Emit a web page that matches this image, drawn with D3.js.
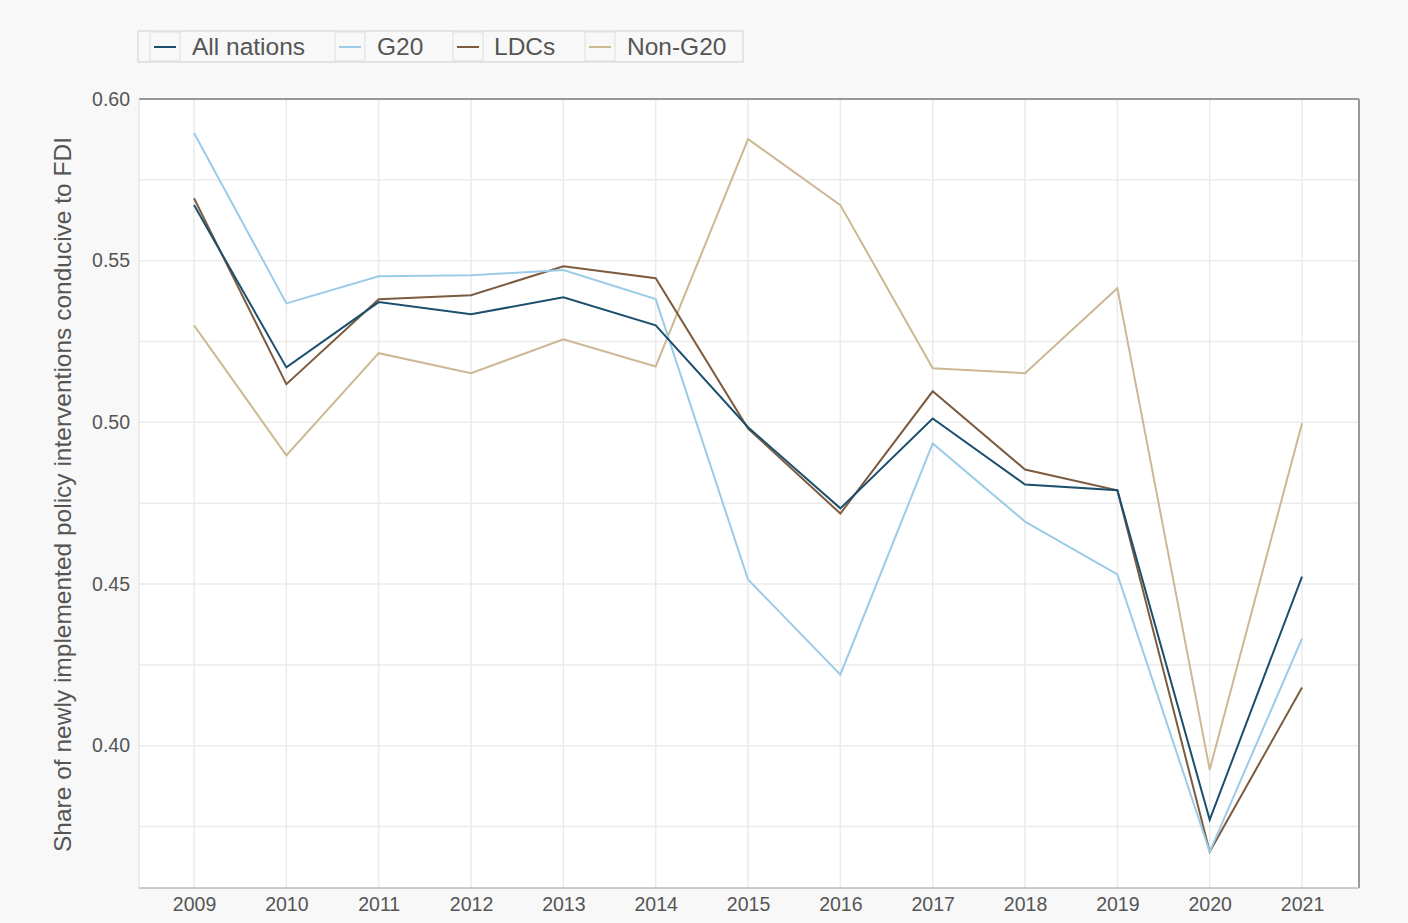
<!DOCTYPE html>
<html>
<head>
<meta charset="utf-8">
<script src="https://cdn.jsdelivr.net/npm/d3@7"></script>
<style>
  html, body { margin: 0; padding: 0; background: #f8f8f8; }
  svg text { font-family: "Liberation Sans", Arial, sans-serif; }
</style>
</head>
<body>
<div id="chart"></div>
<script>
var years = [2009, 2010, 2011, 2012, 2013, 2014, 2015, 2016, 2017, 2018, 2019, 2020, 2021];

var allNations = [0.5672, 0.5170, 0.5372, 0.5334, 0.5387, 0.5300, 0.4985, 0.4734, 0.5012, 0.4808, 0.4790, 0.3771, 0.4523];
var g20        = [0.5895, 0.5368, 0.5452, 0.5455, 0.5471, 0.5381, 0.4514, 0.4220, 0.4935, 0.4693, 0.4530, 0.3672, 0.4331];
var ldcs       = [0.5693, 0.5118, 0.5381, 0.5393, 0.5483, 0.5446, 0.4981, 0.4718, 0.5096, 0.4854, 0.4790, 0.3672, 0.4180];
var nonG20     = [0.5300, 0.4898, 0.5214, 0.5152, 0.5257, 0.5173, 0.5876, 0.5672, 0.5167, 0.5152, 0.5415, 0.3926, 0.4997];

var seriesNames = ["All nations", "G20", "LDCs", "Non-G20"];
var seriesColors = ["#1b4f6d", "#9ccbe8", "#7d5b3f", "#cdb894"];
var yTicks = [0.40, 0.45, 0.50, 0.55, 0.60];

var series = [allNations, g20, ldcs, nonG20].map(function(vals, i) {
  return { name: seriesNames[i], color: seriesColors[i], values: vals };
});

var width = 1408, height = 923;
var margin = { left: 139, right: 49, top: 99, bottom: 35 };

var svg = d3.select("#chart").append("svg")
  .attr("width", width)
  .attr("height", height);

var x = d3.scaleLinear()
  .domain([2008.404, 2021.617])
  .range([margin.left, width - margin.right]);

var y = d3.scaleLinear()
  .domain([0.356, 0.6])
  .range([height - margin.bottom, margin.top]);

// plot panel
svg.append("rect")
  .attr("x", x.range()[0]).attr("y", y.range()[1])
  .attr("width", x.range()[1] - x.range()[0])
  .attr("height", y.range()[0] - y.range()[1])
  .attr("fill", "#ffffff");

var grid = svg.append("g");

// horizontal gridlines, major + minor
var hLines = d3.range(0.375, 0.6001, 0.025);
grid.selectAll(".hgrid").data(hLines).enter().append("line")
  .attr("x1", x.range()[0]).attr("x2", x.range()[1])
  .attr("y1", d => y(d)).attr("y2", d => y(d))
  .attr("stroke", "#ebebeb").attr("stroke-width", 1.5);

grid.selectAll(".vgrid").data(years).enter().append("line")
  .attr("x1", d => x(d)).attr("x2", d => x(d))
  .attr("y1", y.range()[0]).attr("y2", y.range()[1])
  .attr("stroke", "#ebebeb").attr("stroke-width", 1.5);

// panel borders
svg.append("line")
  .attr("x1", x.range()[0]).attr("x2", x.range()[1])
  .attr("y1", y.range()[1]).attr("y2", y.range()[1])
  .attr("stroke", "#999").attr("stroke-width", 2);
svg.append("line")
  .attr("x1", x.range()[1]).attr("x2", x.range()[1])
  .attr("y1", y.range()[1]).attr("y2", y.range()[0])
  .attr("stroke", "#999").attr("stroke-width", 2);
svg.append("line")
  .attr("x1", x.range()[0]).attr("x2", x.range()[1])
  .attr("y1", y.range()[0]).attr("y2", y.range()[0])
  .attr("stroke", "#bbb").attr("stroke-width", 1.5);
svg.append("line")
  .attr("x1", x.range()[0]).attr("x2", x.range()[0])
  .attr("y1", y.range()[1]).attr("y2", y.range()[0])
  .attr("stroke", "#ddd").attr("stroke-width", 1);

// axes
var xAxis = d3.axisBottom(x).tickValues(years).tickFormat(d3.format("d")).tickSize(0).tickPadding(9);
var gx = svg.append("g")
  .attr("transform", "translate(0," + y.range()[0] + ")")
  .call(xAxis);
gx.select(".domain").remove();
gx.selectAll("text").attr("fill", "#555").style("font-size", "19.5px");

var yAxis = d3.axisLeft(y).tickValues(yTicks).tickFormat(d3.format(".2f")).tickSize(0).tickPadding(9);
var gy = svg.append("g")
  .attr("transform", "translate(" + x.range()[0] + ",0)")
  .call(yAxis);
gy.select(".domain").remove();
gy.selectAll("text").attr("fill", "#555").style("font-size", "19.5px");

svg.append("text")
  .attr("transform", "translate(71," + ((y.range()[0] + y.range()[1]) / 2 + 1) + ") rotate(-90)")
  .attr("text-anchor", "middle")
  .attr("fill", "#555")
  .style("font-size", "24.5px")
  .text("Share of newly implemented policy interventions conducive to FDI");

// lines
var line = d3.line()
  .x((d, i) => x(years[i]))
  .y(d => y(d));

svg.append("g").selectAll("path").data(series.slice().reverse()).enter().append("path")
  .attr("d", d => line(d.values))
  .attr("fill", "none")
  .attr("stroke", d => d.color)
  .attr("stroke-width", 2);

// legend
var legend = svg.append("g");
var legItems = [
  { sx: 150, tx: 192 },
  { sx: 335, tx: 377 },
  { sx: 453, tx: 494 },
  { sx: 585, tx: 627 }
];
legend.append("rect")
  .attr("x", 138).attr("y", 31).attr("width", 605).attr("height", 31)
  .attr("fill", "#f8f8f8").attr("stroke", "#ddd").attr("stroke-width", 1.5);

legend.selectAll(".sw").data(series).enter().append("rect")
  .attr("x", (d, i) => legItems[i].sx).attr("y", 32)
  .attr("width", 30).attr("height", 29)
  .attr("fill", "#f8f8f8").attr("stroke", "#ddd").attr("stroke-width", 1);

legend.selectAll(".swl").data(series).enter().append("line")
  .attr("x1", (d, i) => legItems[i].sx + 4).attr("x2", (d, i) => legItems[i].sx + 26)
  .attr("y1", 47).attr("y2", 47)
  .attr("stroke", d => d.color).attr("stroke-width", 2);

legend.selectAll(".lt").data(series).enter().append("text")
  .attr("x", (d, i) => legItems[i].tx).attr("y", 55)
  .attr("fill", "#555")
  .style("font-size", "24.5px")
  .text(d => d.name);
</script>
</body>
</html>
